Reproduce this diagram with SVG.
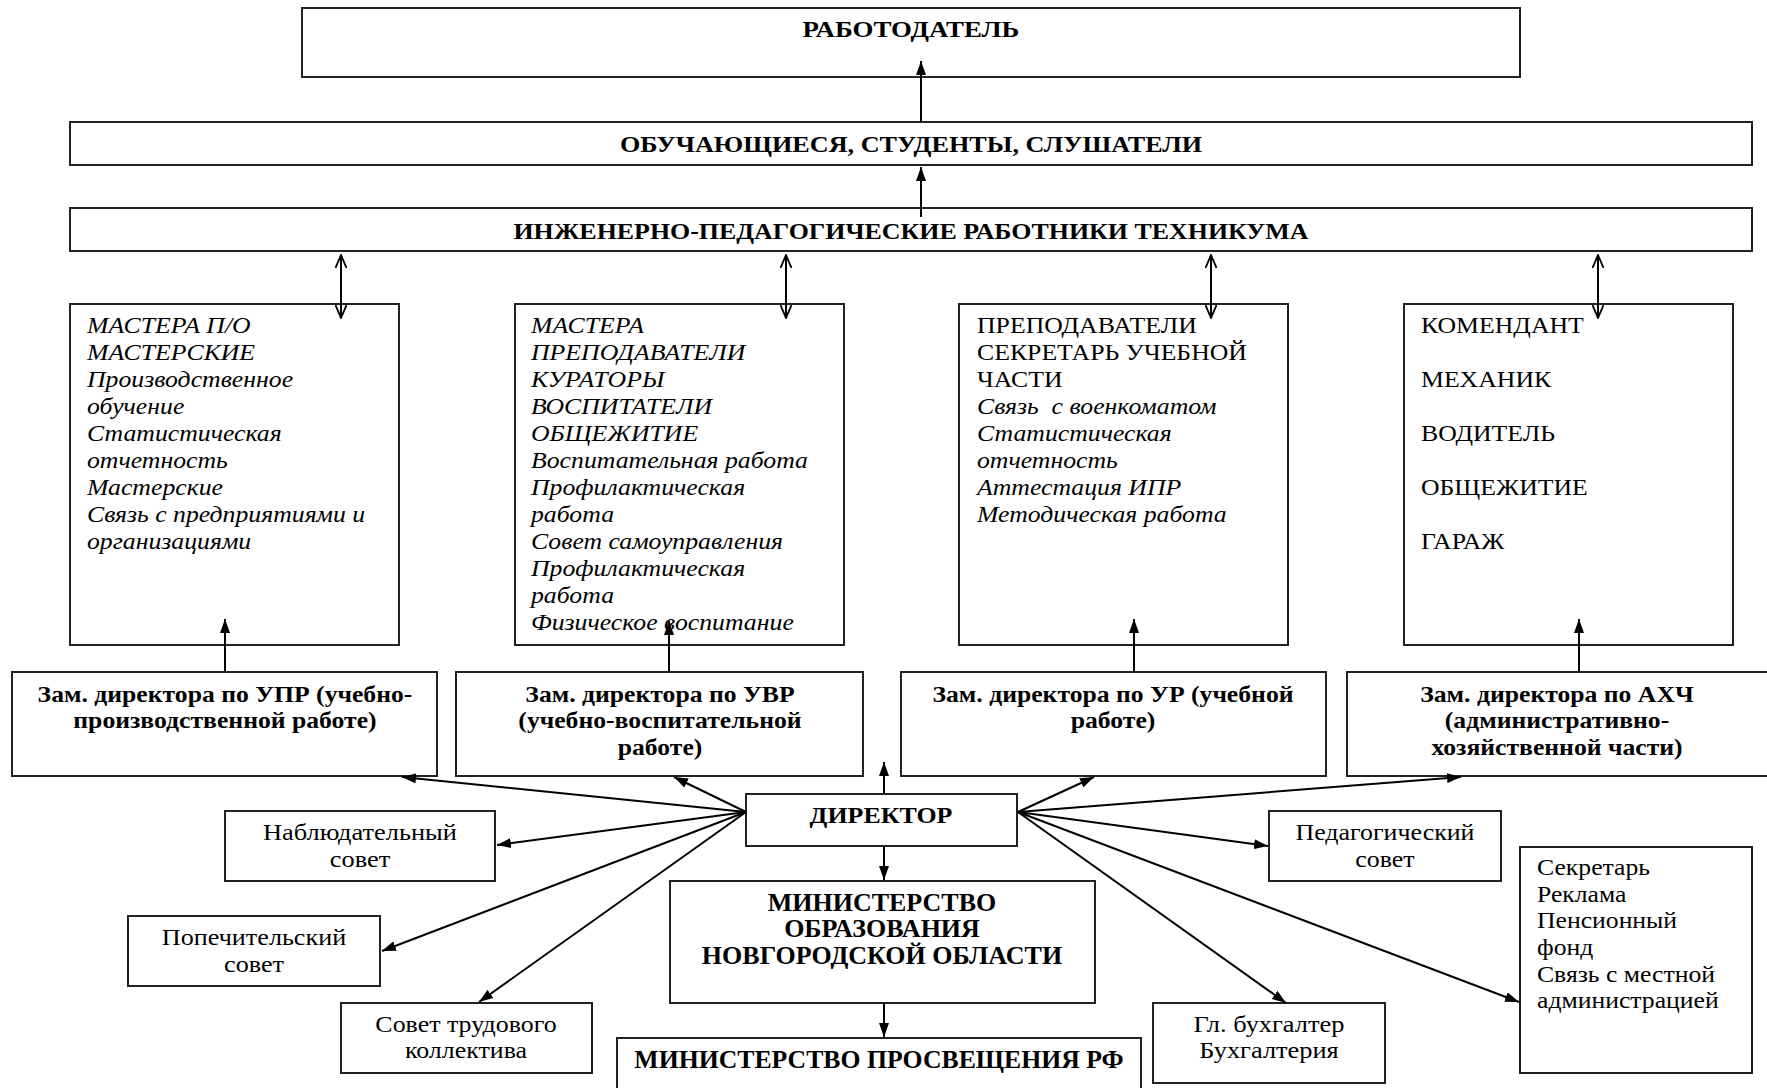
<svg xmlns="http://www.w3.org/2000/svg" width="1767" height="1088" viewBox="0 0 1767 1088">
<defs>
<style>
rect{fill:#fff;stroke:#222;stroke-width:2}
text{font-family:"Liberation Serif","Times New Roman",serif;fill:#000}
.h{font-weight:bold;font-size:24px;text-anchor:middle}
.b{font-weight:bold;font-size:24px;text-anchor:middle}
.i{font-style:italic;font-size:23px}
.r{font-size:23px}
.s{font-size:24px;text-anchor:middle}
.l{font-size:24px}
.c line{stroke:#000;stroke-width:2}
</style>
<marker id="fa" viewBox="0 0 14 10" refX="14" refY="5" markerWidth="14" markerHeight="10" markerUnits="userSpaceOnUse" orient="auto-start-reverse"><path d="M0,0 L14,5 L0,10 z" fill="#000"/></marker>
<marker id="oa" viewBox="0 0 14 12" refX="13" refY="6" markerWidth="14" markerHeight="12" markerUnits="userSpaceOnUse" orient="auto-start-reverse"><path d="M0,0.5 L13,6 L0,11.5" fill="none" stroke="#000" stroke-width="1.8"/></marker>
</defs>
<rect x="0" y="0" width="1767" height="1088" style="stroke:none"/>

<g id="employer"><rect x="302" y="8" width="1218" height="69"/><text class="h" transform="matrix(1.12,0,0,1,-109.32,0)" x="911" y="37">РАБОТОДАТЕЛЬ</text></g>
<g id="students"><rect x="70" y="122" width="1682" height="43"/><text class="h" transform="matrix(1.09,0,0,1,-81.99,0)" x="911" y="152">ОБУЧАЮЩИЕСЯ, СТУДЕНТЫ, СЛУШАТЕЛИ</text></g>
<g id="staff"><rect x="70" y="208" width="1682" height="43"/><text class="h" transform="matrix(1.08,0,0,1,-72.88,0)" x="911" y="239">ИНЖЕНЕРНО-ПЕДАГОГИЧЕСКИЕ РАБОТНИКИ ТЕХНИКУМА</text></g>

<g id="box-upr-staff"><rect x="70" y="304" width="329" height="341"/>
<text class="i" transform="matrix(1.12,0,0,1,-10.44,0)" x="87"><tspan x="87" y="333">МАСТЕРА П/О</tspan><tspan x="87" y="360">МАСТЕРСКИЕ</tspan><tspan x="87" y="387">Производственное</tspan><tspan x="87" y="414">обучение</tspan><tspan x="87" y="441">Статистическая</tspan><tspan x="87" y="468">отчетность</tspan><tspan x="87" y="495">Мастерские</tspan><tspan x="87" y="522">Связь с предприятиями и</tspan><tspan x="87" y="549">организациями</tspan></text></g>

<g id="box-uvr-staff"><rect x="515" y="304" width="329" height="341"/>
<text class="i" transform="matrix(1.12,0,0,1,-63.72,0)" x="531"><tspan x="531" y="333">МАСТЕРА</tspan><tspan x="531" y="360">ПРЕПОДАВАТЕЛИ</tspan><tspan x="531" y="387">КУРАТОРЫ</tspan><tspan x="531" y="414">ВОСПИТАТЕЛИ</tspan><tspan x="531" y="441">ОБЩЕЖИТИЕ</tspan><tspan x="531" y="468">Воспитательная работа</tspan><tspan x="531" y="495">Профилактическая</tspan><tspan x="531" y="522">работа</tspan><tspan x="531" y="549">Совет самоуправления</tspan><tspan x="531" y="576">Профилактическая</tspan><tspan x="531" y="603">работа</tspan><tspan x="531" y="630">Физическое воспитание</tspan></text></g>

<g id="box-ur-staff"><rect x="959" y="304" width="329" height="341"/>
<text class="r" transform="matrix(1.12,0,0,1,-117.24,0)" x="977"><tspan x="977" y="333">ПРЕПОДАВАТЕЛИ</tspan><tspan x="977" y="360">СЕКРЕТАРЬ УЧЕБНОЙ</tspan><tspan x="977" y="387">ЧАСТИ</tspan></text>
<text class="i" transform="matrix(1.12,0,0,1,-117.24,0)" x="977" xml:space="preserve"><tspan x="977" y="414">Связь  с военкоматом</tspan><tspan x="977" y="441">Статистическая</tspan><tspan x="977" y="468">отчетность</tspan><tspan x="977" y="495">Аттестация ИПР</tspan><tspan x="977" y="522">Методическая работа</tspan></text></g>

<g id="box-ahch-staff"><rect x="1404" y="304" width="329" height="341"/>
<text class="r" transform="matrix(1.12,0,0,1,-170.52,0)" x="1421"><tspan x="1421" y="333">КОМЕНДАНТ</tspan><tspan x="1421" y="387">МЕХАНИК</tspan><tspan x="1421" y="441">ВОДИТЕЛЬ</tspan><tspan x="1421" y="495">ОБЩЕЖИТИЕ</tspan><tspan x="1421" y="549">ГАРАЖ</tspan></text></g>

<g id="dep-upr"><rect x="12" y="672" width="425" height="104"/><text class="b" transform="matrix(1.07,0,0,1,-15.75,0)"><tspan x="225" y="702">Зам. директора по УПР (учебно-</tspan><tspan x="225" y="728">производственной работе)</tspan></text></g>
<g id="dep-uvr"><rect x="456" y="672" width="407" height="104"/><text class="b" transform="matrix(1.07,0,0,1,-46.2,0)"><tspan x="660" y="702">Зам. директора по УВР</tspan><tspan x="660" y="728">(учебно-воспитательной</tspan><tspan x="660" y="755">работе)</tspan></text></g>
<g id="dep-ur"><rect x="901" y="672" width="425" height="104"/><text class="b" transform="matrix(1.07,0,0,1,-77.91,0)"><tspan x="1113" y="702">Зам. директора по УР (учебной</tspan><tspan x="1113" y="728">работе)</tspan></text></g>
<g id="dep-ahch"><rect x="1347" y="672" width="432" height="104"/><text class="b" transform="matrix(1.07,0,0,1,-108.99,0)"><tspan x="1557" y="702">Зам. директора по АХЧ</tspan><tspan x="1557" y="728">(административно-</tspan><tspan x="1557" y="755">хозяйственной части)</tspan></text></g>

<g id="director"><rect x="746" y="794" width="271" height="52"/><text class="b" transform="matrix(1.08,0,0,1,-70.48,0)" x="881" y="823">ДИРЕКТОР</text></g>
<g id="ministry-region"><rect x="670" y="881" width="425" height="122"/><text class="b" style="font-size:25px" transform="matrix(1.04,0,0,1,-35.28,0)"><tspan x="882" y="911">МИНИСТЕРСТВО</tspan><tspan x="882" y="937">ОБРАЗОВАНИЯ</tspan><tspan x="882" y="964">НОВГОРОДСКОЙ ОБЛАСТИ</tspan></text></g>
<g id="ministry-rf"><rect x="617" y="1038" width="524" height="60"/><text class="b" style="font-size:25px" transform="matrix(1.03,0,0,1,-26.37,0)" x="879" y="1068">МИНИСТЕРСТВО ПРОСВЕЩЕНИЯ РФ</text></g>

<g id="supervisory"><rect x="225" y="811" width="270" height="70"/><text class="s" transform="matrix(1.1,0,0,1,-36,0)"><tspan x="360" y="840">Наблюдательный</tspan><tspan x="360" y="867">совет</tspan></text></g>
<g id="trustees"><rect x="128" y="916" width="252" height="70"/><text class="s" transform="matrix(1.09,0,0,1,-22.86,0)"><tspan x="254" y="945">Попечительский</tspan><tspan x="254" y="972">совет</tspan></text></g>
<g id="labour"><rect x="341" y="1003" width="251" height="70"/><text class="s" transform="matrix(1.08,0,0,1,-37.28,0)"><tspan x="466" y="1032">Совет трудового</tspan><tspan x="466" y="1058">коллектива</tspan></text></g>
<g id="pedagogical"><rect x="1269" y="811" width="232" height="70"/><text class="s" transform="matrix(1.08,0,0,1,-110.8,0)"><tspan x="1385" y="840">Педагогический</tspan><tspan x="1385" y="867">совет</tspan></text></g>
<g id="accounting"><rect x="1153" y="1003" width="232" height="80"/><text class="s" transform="matrix(1.1,0,0,1,-126.9,0)"><tspan x="1269" y="1032">Гл. бухгалтер</tspan><tspan x="1269" y="1058">Бухгалтерия</tspan></text></g>
<g id="secretary"><rect x="1520" y="847" width="232" height="226"/><text class="l" transform="matrix(1.07,0,0,1,-107.59,0)"><tspan x="1537" y="875">Секретарь</tspan><tspan x="1537" y="902">Реклама</tspan><tspan x="1537" y="928">Пенсионный</tspan><tspan x="1537" y="955">фонд</tspan><tspan x="1537" y="982">Связь с местной</tspan><tspan x="1537" y="1008">администрацией</tspan></text></g>

<g id="connectors" class="c">
<line x1="921" y1="122" x2="921" y2="61" marker-end="url(#fa)"/>
<line x1="921" y1="217" x2="921" y2="167" marker-end="url(#fa)"/>
<line x1="341" y1="255" x2="341" y2="318" marker-start="url(#oa)" marker-end="url(#oa)"/>
<line x1="786" y1="255" x2="786" y2="318" marker-start="url(#oa)" marker-end="url(#oa)"/>
<line x1="1211" y1="255" x2="1211" y2="318" marker-start="url(#oa)" marker-end="url(#oa)"/>
<line x1="1598" y1="255" x2="1598" y2="318" marker-start="url(#oa)" marker-end="url(#oa)"/>
<line x1="225" y1="672" x2="225" y2="619" marker-end="url(#fa)"/>
<line x1="669" y1="672" x2="669" y2="621" marker-end="url(#fa)"/>
<line x1="1134" y1="672" x2="1134" y2="619" marker-end="url(#fa)"/>
<line x1="1579" y1="672" x2="1579" y2="619" marker-end="url(#fa)"/>
<line x1="884" y1="794" x2="884" y2="762" marker-end="url(#fa)"/>
<line x1="884" y1="846" x2="884" y2="880" marker-end="url(#fa)"/>
<line x1="884" y1="1003" x2="884" y2="1037" marker-end="url(#fa)"/>
<line x1="746" y1="812" x2="402" y2="777" marker-end="url(#fa)"/>
<line x1="746" y1="812" x2="674" y2="777" marker-end="url(#fa)"/>
<line x1="746" y1="812" x2="497" y2="845" marker-end="url(#fa)"/>
<line x1="746" y1="812" x2="382" y2="951" marker-end="url(#fa)"/>
<line x1="746" y1="812" x2="479" y2="1002" marker-end="url(#fa)"/>
<line x1="1018" y1="812" x2="1094" y2="777" marker-end="url(#fa)"/>
<line x1="1018" y1="812" x2="1461" y2="777" marker-end="url(#fa)"/>
<line x1="1018" y1="812" x2="1268" y2="846" marker-end="url(#fa)"/>
<line x1="1018" y1="812" x2="1286" y2="1003" marker-end="url(#fa)"/>
<line x1="1018" y1="812" x2="1519" y2="1002" marker-end="url(#fa)"/>
</g>
</svg>
